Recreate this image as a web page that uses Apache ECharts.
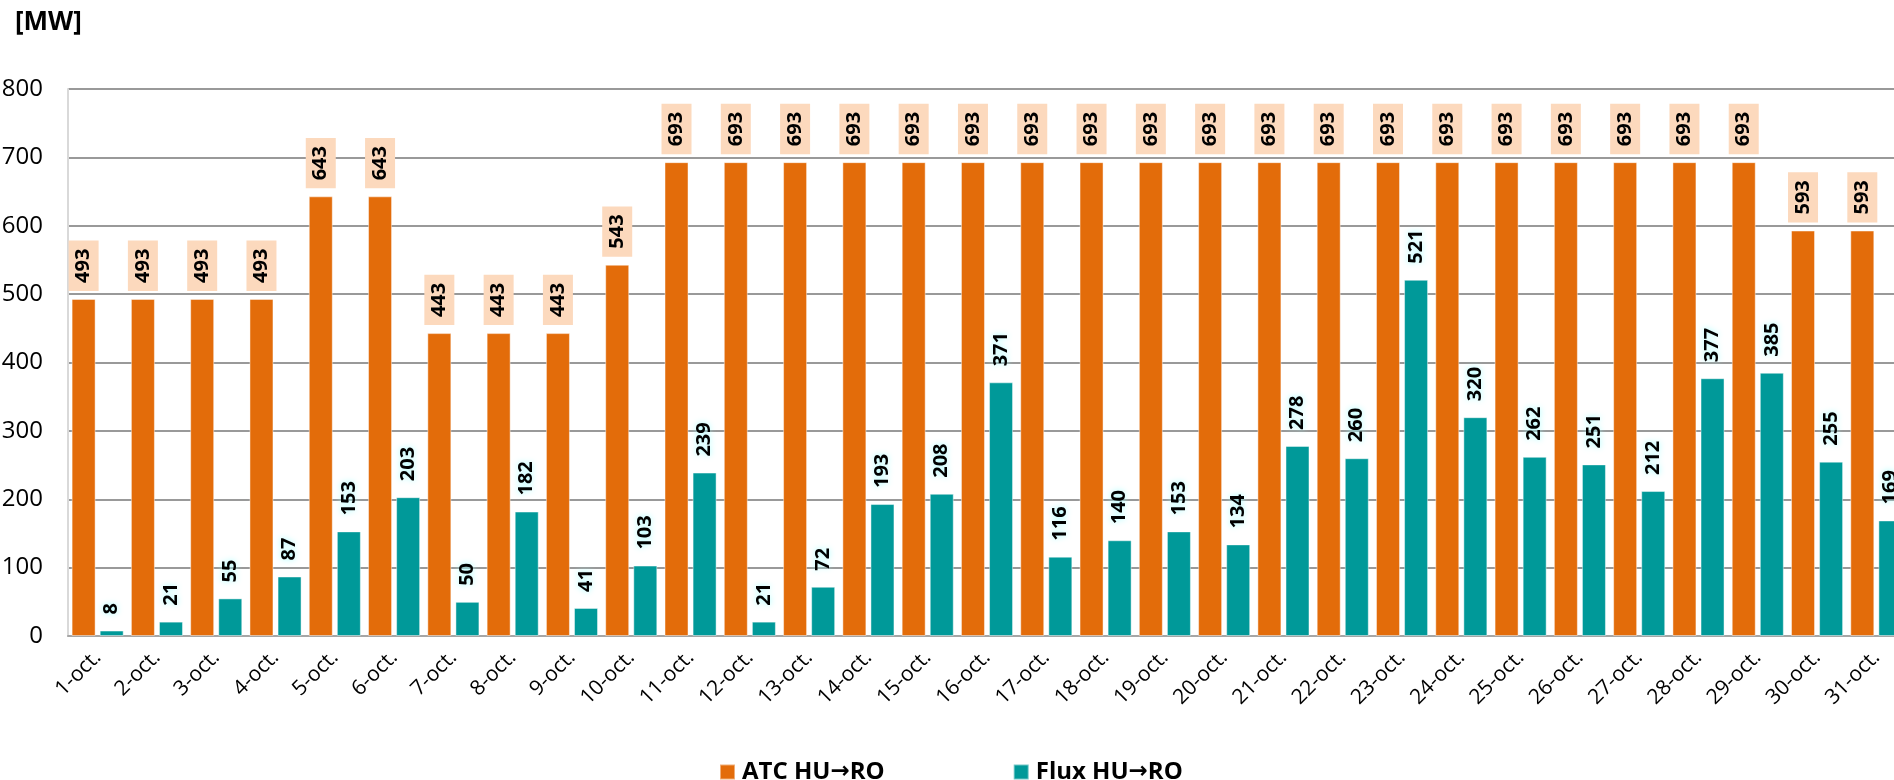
<!DOCTYPE html>
<html>
<head>
<meta charset="utf-8">
<script src="https://cdn.jsdelivr.net/npm/echarts@6/dist/echarts.min.js"></script>
<style>
	html, body { margin: 0; padding: 0; background: #fff; }
	#chart { width: 1894px; height: 780px; }
</style>
</head>
<body>
<div id="chart"></div>
<script>
// zile din octombrie
const days = ['1-oct.', '2-oct.', '3-oct.', '4-oct.', '5-oct.', '6-oct.', '7-oct.', '8-oct.', '9-oct.', '10-oct.',
	'11-oct.', '12-oct.', '13-oct.', '14-oct.', '15-oct.', '16-oct.', '17-oct.', '18-oct.', '19-oct.', '20-oct.',
	'21-oct.', '22-oct.', '23-oct.', '24-oct.', '25-oct.', '26-oct.', '27-oct.', '28-oct.', '29-oct.', '30-oct.', '31-oct.'];

const atcHuRo = [493, 493, 493, 493, 643, 643, 443, 443, 443, 543,
	693, 693, 693, 693, 693, 693, 693, 693, 693, 693,
	693, 693, 693, 693, 693, 693, 693, 693, 693, 593, 593];

const fluxHuRo = [8, 21, 55, 87, 153, 203, 50, 182, 41, 103,
	239, 21, 72, 193, 208, 371, 116, 140, 153, 134,
	278, 260, 521, 320, 262, 251, 212, 377, 385, 255, 169];

const font = '"Open Sans", "Noto Sans", sans-serif';

const chart = echarts.init(document.getElementById('chart'));

const valueLabel = {
	show: true,
	position: 'top',
	rotate: 90,
	align: 'left',
	verticalAlign: 'middle',
	distance: 8,
	fontFamily: font,
	fontWeight: 'bold',
	fontSize: 20,
	lineHeight: 16,
	color: '#000',
	padding: [7, 8]
};

const option = {
	animation: false,
	backgroundColor: '#fff',
	title: {
		text: '[MW]',
		left: 10,
		top: 5,
		textStyle: {fontFamily: font, fontWeight: 'bold', fontSize: 26, color: '#000'}
	},
	legend: {
		left: 714,
		top: 755,
		icon: 'rect',
		itemWidth: 15,
		itemHeight: 15,
		itemGap: 128,
		// sageata mai groasa, ca in Excel
		formatter: function (name) {
			return name.replace('→', '{arr|→}');
		},
		textStyle: {
			fontFamily: font, fontWeight: 'bold', fontSize: 24, color: '#000', padding: [0, 0, 0, 2],
			rich: {
				arr: {fontFamily: 'DejaVu Sans', fontWeight: 'bold', fontSize: 23, color: '#000'}
			}
		},
		data: ['ATC HU→RO', 'Flux HU→RO']
	},
	grid: {
		left: 68,
		top: 89,
		width: 1838,
		height: 547,
		containLabel: false,
		outerBoundsMode: 'none'
	},
	xAxis: {
		type: 'category',
		data: days,
		axisLine: {lineStyle: {color: '#a6a6a6', width: 2}},
		axisTick: {show: false},
		axisLabel: {
			interval: 0,
			rotate: 45,
			margin: 18,
			fontFamily: font,
			fontSize: 21,
			color: '#000'
		}
	},
	yAxis: {
		type: 'value',
		min: 0,
		max: 800,
		interval: 100,
		axisLine: {show: true, lineStyle: {color: '#d9d9d9', width: 2}},
		axisTick: {show: false},
		axisLabel: {margin: 25, fontFamily: font, fontSize: 24, color: '#000'},
		splitLine: {lineStyle: {color: '#999', width: 2}}
	},
	series: [
		{
			name: 'ATC HU→RO',
			type: 'bar',
			data: atcHuRo,
			barWidth: 24,
			barGap: '17%',
			itemStyle: {color: '#e36c0a', borderColor: 'rgba(255,255,255,0.45)', borderWidth: 1},
			label: Object.assign({}, valueLabel, {backgroundColor: '#fcd9bd'})
		},
		{
			name: 'Flux HU→RO',
			type: 'bar',
			data: fluxHuRo,
			barWidth: 24,
			itemStyle: {color: '#009999', borderColor: 'rgba(255,255,255,0.45)', borderWidth: 1},
			label: Object.assign({}, valueLabel, {
				textShadowColor: '#9ffcff',
				textShadowBlur: 6
			})
		}
	]
};

chart.setOption(option);
</script>
</body>
</html>
